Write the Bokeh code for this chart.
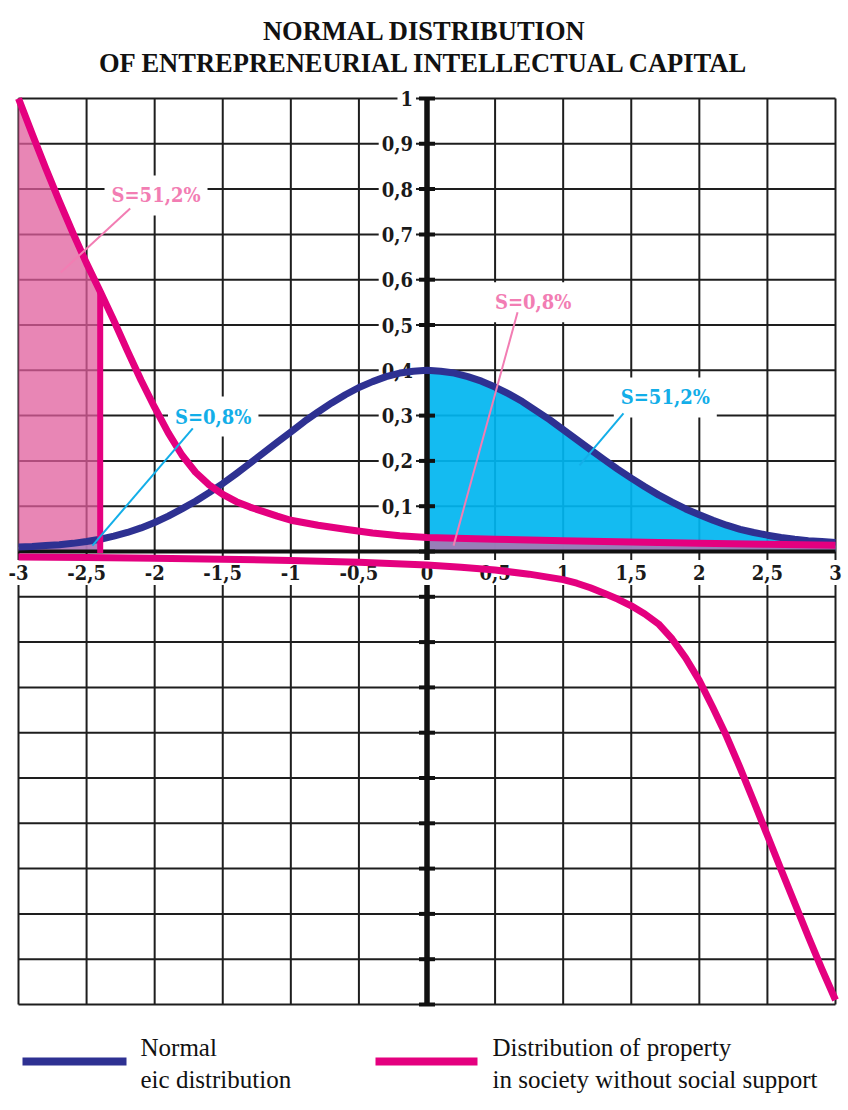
from bokeh.plotting import figure
from bokeh.models import Range1d
from bokeh.embed import file_html
from bokeh.resources import INLINE
from bokeh.core.properties import value

# ---------------- data ----------------
title_lines = ["NORMAL DISTRIBUTION", "OF ENTREPRENEURIAL INTELLECTUAL CAPITAL"]

x_ticks = [-3, -2.5, -2, -1.5, -1, -0.5, 0, 0.5, 1, 1.5, 2, 2.5, 3]
x_tick_labels = ["-3", "-2,5", "-2", "-1,5", "-1", "-0,5", "0", "0,5", "1", "1,5", "2", "2,5", "3"]
y_ticks = [0.1, 0.2, 0.3, 0.4, 0.5, 0.6, 0.7, 0.8, 0.9, 1.0]
y_tick_labels = ["0,1", "0,2", "0,3", "0,4", "0,5", "0,6", "0,7", "0,8", "0,9", "1"]
y_grid = [round(-1 + 0.1 * i, 1) for i in range(21)]

# normal eic distribution
normal_x = [round(-3 + 0.1 * i, 1) for i in range(61)]
normal_y = [0.010, 0.011, 0.013, 0.015, 0.018, 0.022, 0.027, 0.034, 0.042, 0.052,
            0.064, 0.078, 0.094, 0.111, 0.130, 0.150, 0.172, 0.195, 0.218, 0.241,
            0.264, 0.287, 0.308, 0.328, 0.346, 0.362, 0.375, 0.386, 0.394, 0.398,
            0.400,
            0.398, 0.394, 0.386, 0.376, 0.363, 0.348, 0.331, 0.311, 0.291, 0.269,
            0.247, 0.225, 0.203, 0.182, 0.162, 0.143, 0.125, 0.109, 0.094, 0.081,
            0.069, 0.058, 0.049, 0.042, 0.036, 0.031, 0.027, 0.024, 0.022, 0.020]

# distribution of property (upper branch)
prop_x = [-3.0, -2.9, -2.8, -2.7, -2.6, -2.5, -2.4, -2.3, -2.2, -2.1, -2.0, -1.9,
          -1.8, -1.7, -1.6, -1.5, -1.4, -1.3, -1.2, -1.1, -1.0, -0.8, -0.6, -0.4,
          -0.2, 0.0, 0.5, 1.0, 1.5, 2.0, 2.5, 3.0]
prop_y = [1.0, 0.922, 0.846, 0.773, 0.703, 0.636, 0.574, 0.51, 0.443, 0.378, 0.318,
          0.262, 0.213, 0.175, 0.147, 0.126, 0.11, 0.098, 0.088, 0.078, 0.069, 0.058,
          0.049, 0.041, 0.035, 0.031, 0.027, 0.024, 0.021, 0.018, 0.016, 0.014]

# distribution of property (lower branch)
low_x = [-3.0, -2.5, -2.0, -1.5, -1.0, -0.5, 0.0, 0.25, 0.5, 0.75, 1.0, 1.1, 1.2,
         1.3, 1.4, 1.5, 1.6, 1.7, 1.8, 1.9, 2.0, 2.1, 2.2, 2.3, 2.4, 2.5, 2.6, 2.7,
         2.8, 2.9, 3.0]
low_y = [-0.012, -0.013, -0.015, -0.017, -0.020, -0.024, -0.030, -0.035, -0.041,
         -0.050, -0.062, -0.070, -0.080, -0.092, -0.105, -0.120, -0.138, -0.160,
         -0.193, -0.235, -0.285, -0.345, -0.408, -0.478, -0.552, -0.627, -0.702,
         -0.776, -0.850, -0.922, -0.990]

cut_x = -2.4   # edge of the shaded property area

# area annotations
s_text = ["S=51,2%", "S=0,8%", "S=0,8%", "S=51,2%"]
s_x = [-1.99, -1.57, 0.78, 1.75]
s_y = [0.786, 0.298, 0.55, 0.34]
s_color = ["#f27db3", "#13aee8", "#f27db3", "#13aee8"]
lead_x0 = [-2.18, -1.72, 0.665, 1.443]
lead_y0 = [0.757, 0.272, 0.528, 0.305]
lead_x1 = [-2.69, -2.457, 0.195, 1.12]
lead_y1 = [0.616, 0.013, 0.013, 0.19]

legend_labels = [["Normal", "eic distribution"],
                 ["Distribution of property", "in society without social support"]]

# ---------------- layout ----------------
W, H = 848, 1110
PX_XL, PX_XR = 18, 835      # pixels of x=-3 and x=3
PX_YT, PX_YB = 98, 1004     # pixels of y=1 and y=-1
kx = (PX_XR - PX_XL) / 6.0
ky = (PX_YB - PX_YT) / 2.0


def px2x(px):
    return -3 + (px - PX_XL) / kx


def px2y(py):
    return 1 - (py - PX_YT) / ky


PINK = "#e4007f"
BLUE = "#2e3192"
GRID = "#1e1e1e"
TICKFONT = "DejaVu Serif Condensed"

p = figure(width=W, height=H, output_backend="svg", toolbar_location=None,
           x_range=Range1d(px2x(0), px2x(W)), y_range=Range1d(px2y(H), px2y(0)),
           x_axis_location=None, y_axis_location=None, min_border=0, title=None)
p.outline_line_color = None
p.xgrid.visible = False
p.ygrid.visible = False
p.background_fill_color = "white"
p.border_fill_color = "white"

# grid
p.segment(x0=x_ticks, y0=[-1] * len(x_ticks), x1=x_ticks, y1=[1] * len(x_ticks),
          line_color=GRID, line_width=2)
p.segment(x0=[-3] * len(y_grid), y0=y_grid, x1=[3] * len(y_grid), y1=y_grid,
          line_color=GRID, line_width=2)

# shaded areas
lx = [x for x in prop_x if x <= cut_x]
ly = prop_y[:len(lx)]
p.varea(x=lx, y1=[0] * len(lx), y2=ly, fill_color="#e05e9c", fill_alpha=0.75)
nlx = [x for x in normal_x if x <= cut_x]
nly = normal_y[:len(nlx)]
p.varea(x=nlx, y1=[0] * len(nlx), y2=nly, fill_color="#a77cbc", fill_alpha=0.8)
nrx = [x for x in normal_x if x >= 0]
nry = normal_y[len(normal_x) - len(nrx):]
p.varea(x=nrx, y1=[0] * len(nrx), y2=nry, fill_color="#00b5f0", fill_alpha=0.92)
prx = [x for x in prop_x if x >= 0]
pry = prop_y[len(prop_x) - len(prx):]
p.varea(x=prx, y1=[0] * len(prx), y2=pry, fill_color="#a479b3", fill_alpha=0.92)

# axes
p.segment(x0=[-3], y0=[0], x1=[3], y1=[0], line_color="#111111", line_width=4)
p.segment(x0=[0], y0=[-1], x1=[0], y1=[1], line_color="#111111", line_width=5.5)
p.rect(x=[0] * len(y_grid), y=y_grid, width=16, height=4, width_units="screen",
       height_units="screen", fill_color="#111111", line_color=None)

# tick labels
p.text(x=[0] * len(y_ticks), y=y_ticks, text=y_tick_labels, x_offset=-11,
       text_align="right", text_baseline="middle", text_font=value(TICKFONT),
       text_font_style="bold", text_font_size="20px", text_color="#1a1a1a",
       background_fill_color="white", padding=(3, 2))
p.text(x=x_ticks, y=[0] * len(x_ticks), text=x_tick_labels, y_offset=21,
       text_align="center", text_baseline="middle", text_font=value(TICKFONT),
       text_font_style="bold", text_font_size="20px", text_color="#1a1a1a",
       background_fill_color="white", padding=(2, 5))

# annotation boxes
p.text(x=s_x, y=s_y, text=s_text, text_align="center", text_baseline="middle",
       text_font=value(TICKFONT), text_font_style="bold", text_font_size="20px",
       text_color=s_color, background_fill_color="white", padding=(7, 8))

# curves
p.line(normal_x, normal_y, line_color=BLUE, line_width=7, line_join="round")
p.line(prop_x, prop_y, line_color=PINK, line_width=7, line_join="round")
p.line(low_x, low_y, line_color=PINK, line_width=7, line_join="round")
p.segment(x0=[cut_x], y0=[-0.004], x1=[cut_x], y1=[prop_y[prop_x.index(cut_x)]],
          line_color=PINK, line_width=6)

# leader lines
p.segment(x0=lead_x0, y0=lead_y0, x1=lead_x1, y1=lead_y1, line_color=s_color,
          line_width=2)

# title
p.text(x=[px2x(424)] * 2, y=[px2y(30), px2y(62)], text=title_lines,
       text_align="center", text_baseline="middle",
       text_font=value("Liberation Serif"), text_font_style="bold",
       text_font_size="26.5px", text_color="#111111")

# legend
p.segment(x0=[px2x(22), px2x(375)], y0=[px2y(1061)] * 2,
          x1=[px2x(126), px2x(477)], y1=[px2y(1061)] * 2,
          line_color=[BLUE, PINK], line_width=8)
for lx0, lines in zip([140, 492], legend_labels):
    p.text(x=[px2x(lx0)] * 2, y=[px2y(1047), px2y(1079)], text=lines,
           text_align="left", text_baseline="middle",
           text_font=value("Liberation Serif"), text_font_size="25px",
           text_color="#111111")

open("out.html", "w").write(file_html(p, INLINE))
